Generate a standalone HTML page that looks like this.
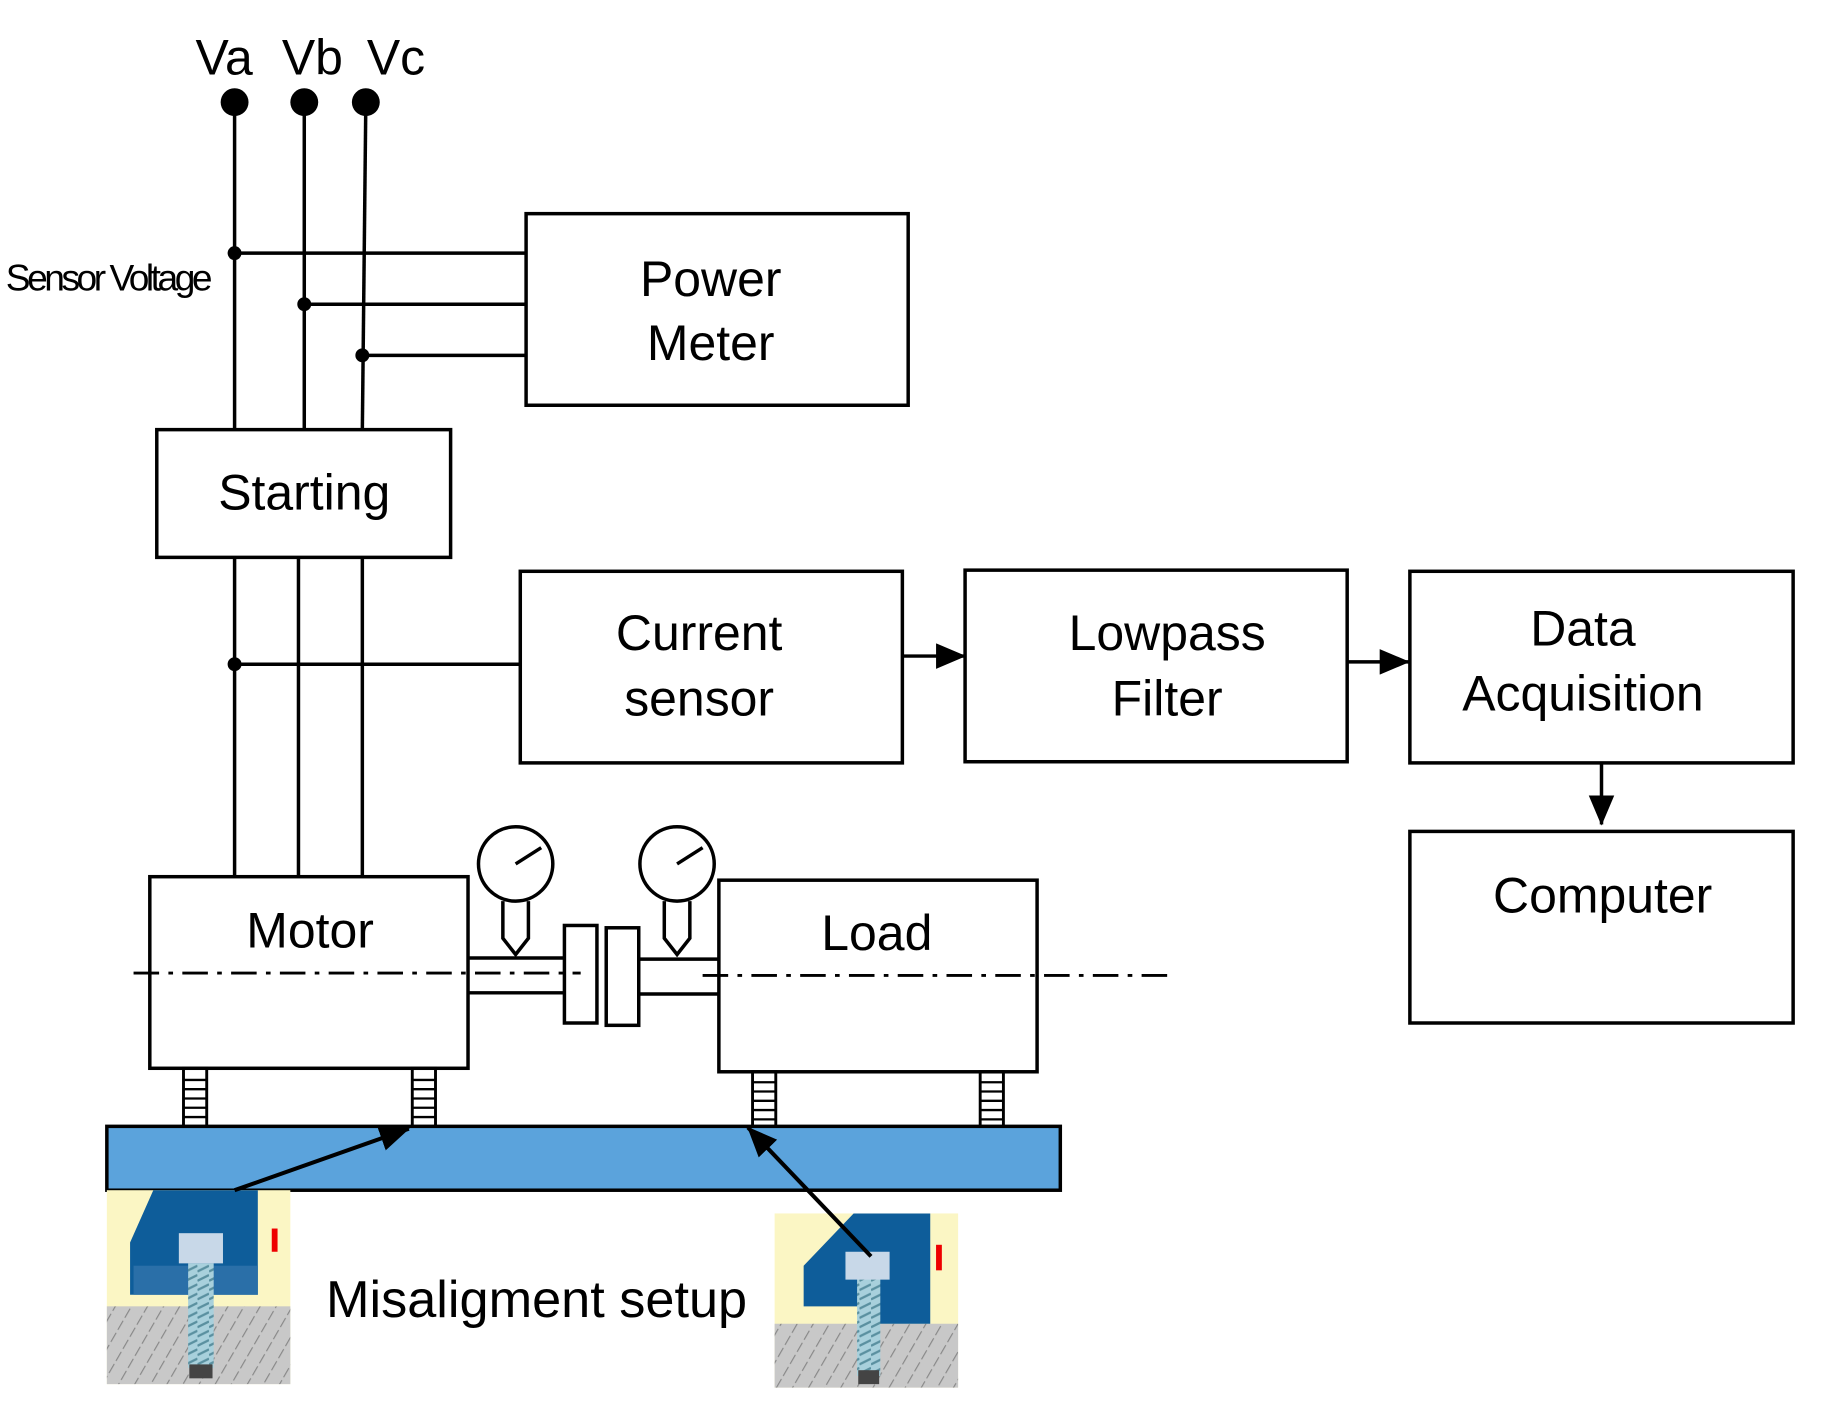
<!DOCTYPE html>
<html><head><style>html,body{margin:0;padding:0;background:#fff}svg{display:block}</style></head><body>
<svg width="1821" height="1412" viewBox="0 0 1568 1216" preserveAspectRatio="none" xmlns="http://www.w3.org/2000/svg" font-family="Liberation Sans, Arial, sans-serif">
<defs>
<marker id="ah" markerWidth="26" markerHeight="22" refX="25" refY="11" orient="auto" markerUnits="userSpaceOnUse" viewBox="0 0 26 22"><path d="M0,0 L26,11 L0,22 z" fill="#000"/></marker>
<pattern id="hatch" width="12" height="12" patternUnits="userSpaceOnUse" patternTransform="rotate(30)"><rect width="12" height="12" fill="#c8c8c8"/><line x1="0" y1="0" x2="0" y2="12" stroke="#888" stroke-width="2" stroke-dasharray="5 3"/></pattern>
<pattern id="screw" width="10" height="8" patternUnits="userSpaceOnUse"><rect width="10" height="8" fill="#a8d0dc"/><line x1="0" y1="7" x2="10" y2="2" stroke="#5a90a0" stroke-width="2"/></pattern>
</defs>
<g fill="none" stroke="#000" stroke-width="3">
<line x1="202" y1="88" x2="202" y2="370"/>
<line x1="262" y1="88" x2="262" y2="370"/>
<line x1="315" y1="88" x2="312" y2="370"/>
<line x1="202" y1="218" x2="453" y2="218"/>
<line x1="262" y1="262" x2="453" y2="262"/>
<line x1="312" y1="306" x2="453" y2="306"/>
<rect x="453" y="184" width="329" height="165"/>
<rect x="135" y="370" width="253" height="110"/>
<line x1="202" y1="480" x2="202" y2="755"/>
<line x1="257" y1="480" x2="257" y2="755"/>
<line x1="312" y1="480" x2="312" y2="755"/>
<line x1="202" y1="572" x2="448" y2="572"/>
<rect x="448" y="492" width="329" height="165"/>
<rect x="831" y="491" width="329" height="165"/>
<rect x="1214" y="492" width="330" height="165"/>
<rect x="1214" y="716" width="330" height="165"/>
<line x1="777" y1="565" x2="831" y2="565" marker-end="url(#ah)"/>
<line x1="1160" y1="570" x2="1213" y2="570" marker-end="url(#ah)"/>
<line x1="1379" y1="657" x2="1379" y2="710" marker-end="url(#ah)"/>
<rect x="129" y="755" width="274" height="165"/>
<rect x="619" y="758" width="274" height="165"/>
<line x1="403" y1="825" x2="486" y2="825"/>
<line x1="403" y1="855" x2="486" y2="855"/>
<line x1="550" y1="826" x2="619" y2="826"/>
<line x1="550" y1="856" x2="619" y2="856"/>
<rect x="486" y="797" width="28" height="84"/>
<rect x="522" y="799" width="28" height="84"/>
<circle cx="444" cy="744" r="32"/>
<circle cx="583" cy="744" r="32"/>
<line x1="444" y1="744" x2="466" y2="730"/>
<line x1="583" y1="744" x2="605" y2="730"/>
<path d="M433,776 V808 L444,822 L455,808 V776"/>
<path d="M572,776 V808 L583,822 L594,808 V776"/>
</g>
<g stroke="#000" stroke-width="2.5" stroke-dasharray="22 8 4 8">
<line x1="115" y1="838" x2="500" y2="838"/>
<line x1="605" y1="840" x2="1005" y2="840"/>
</g>
<g fill="none" stroke="#000" stroke-width="2.5">
<rect x="158" y="920" width="20" height="50"/><rect x="355" y="920" width="20" height="50"/>
<rect x="648" y="923" width="20" height="47"/><rect x="844" y="923" width="20" height="47"/>
</g>
<g stroke="#000" stroke-width="2">
<path d="M158,930h20M158,938h20M158,946h20M158,954h20M158,962h20M355,930h20M355,938h20M355,946h20M355,954h20M355,962h20M648,932h20M648,940h20M648,948h20M648,956h20M648,964h20M844,932h20M844,940h20M844,948h20M844,956h20M844,964h20"/>
</g>
<rect x="92" y="970" width="821" height="55" fill="#5ba3dc" stroke="#000" stroke-width="3"/>
<g fill="#000">
<circle cx="202" cy="88" r="12"/><circle cx="262" cy="88" r="12"/><circle cx="315" cy="88" r="12"/>
<circle cx="202" cy="218" r="6"/><circle cx="262" cy="262" r="6"/><circle cx="312" cy="306" r="6"/><circle cx="202" cy="572" r="6"/>
</g>
<g>
<rect x="92" y="1025" width="158" height="167" fill="#fbf6c4"/>
<rect x="92" y="1125" width="158" height="67" fill="url(#hatch)"/>
<path d="M132,1025 H222 V1115 H112 V1070 Z" fill="#0e5d9a"/>
<rect x="115" y="1090" width="107" height="25" fill="#2a6fa8"/>
<rect x="162" y="1088" width="22" height="90" fill="url(#screw)"/>
<rect x="154" y="1062" width="38" height="26" fill="#c8d8e8"/>
<rect x="163" y="1175" width="20" height="12" fill="#444"/>
<rect x="234" y="1058" width="5" height="20" fill="#e00"/>
</g>
<g>
<rect x="667" y="1045" width="158" height="150" fill="#fbf6c4"/>
<rect x="667" y="1140" width="158" height="55" fill="url(#hatch)"/>
<path d="M735,1045 H801 V1140 H745 V1125 H692 V1090 Z" fill="#0e5d9a"/>
<rect x="738" y="1100" width="20" height="85" fill="url(#screw)"/>
<rect x="728" y="1078" width="38" height="24" fill="#c8d8e8"/>
<rect x="739" y="1180" width="18" height="12" fill="#444"/>
<rect x="806" y="1072" width="5" height="22" fill="#e00"/>
</g>
<g stroke="#000" stroke-width="3.5">
<line x1="202" y1="1025" x2="352" y2="972" marker-end="url(#ah)"/>
<line x1="750" y1="1082" x2="644" y2="971" marker-end="url(#ah)"/>
</g>
<g fill="#000" font-size="43" text-anchor="middle">
<text x="193" y="64">Va</text><text x="269" y="64">Vb</text><text x="341" y="64">Vc</text>
<text x="612" y="255">Power</text><text x="612" y="310">Meter</text>
<text x="262" y="439">Starting</text>
<text x="602" y="560">Current</text><text x="602" y="616">sensor</text>
<text x="1005" y="560">Lowpass</text><text x="1005" y="616">Filter</text>
<text x="1363" y="556">Data</text><text x="1363" y="612">Acquisition</text>
<text x="1380" y="786">Computer</text>
<text x="267" y="816">Motor</text>
<text x="755" y="818">Load</text>
<text x="462" y="1134" font-size="45">Misaligment setup</text>
</g>
<text x="5" y="250" font-size="32" letter-spacing="-3" fill="#000">Sensor Voltage</text>
</svg>
</body></html>
